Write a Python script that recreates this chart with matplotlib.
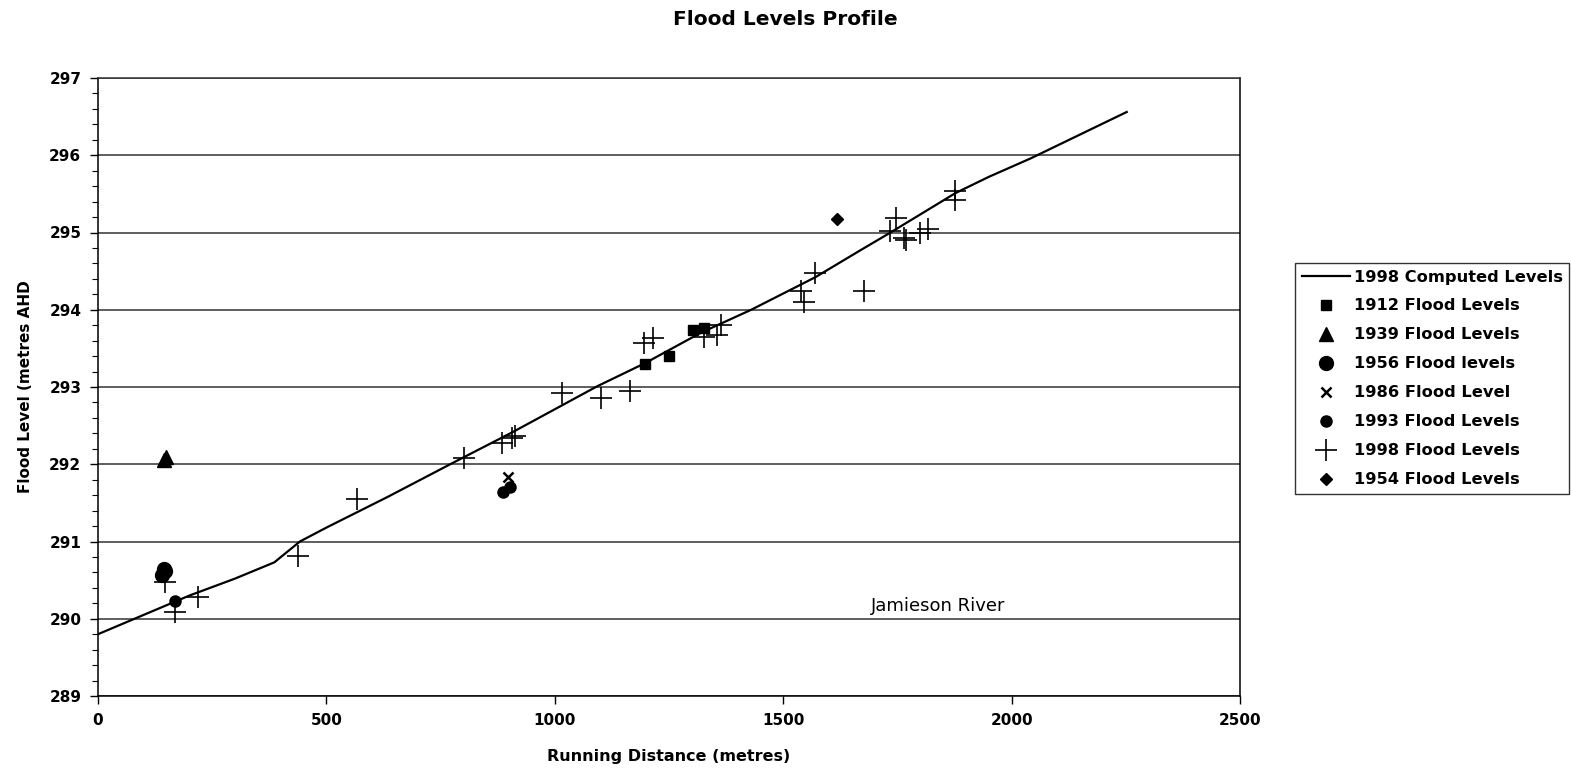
import numpy as np
import matplotlib
matplotlib.use("Agg")
import matplotlib.pyplot as plt
from matplotlib.ticker import MultipleLocator

plt.rcParams['font.family'] = ['DejaVu Sans']

# 1998 computed profile
computed_dist = [0, 100, 200, 300, 386, 442, 500, 635, 771, 909, 1093, 1198,
                 1319, 1430, 1570, 1669, 1735, 1877, 1950, 2042, 2252]
computed_level = [289.80, 290.05, 290.30, 290.52, 290.73, 291.00, 291.18, 291.58,
                  292.00, 292.42, 293.01, 293.31, 293.70, 294.00, 294.42, 294.77,
                  295.00, 295.51, 295.72, 295.96, 296.56]

# observed flood marks
fl1912_dist = [1198, 1251, 1303, 1327]
fl1912_level = [293.30, 293.40, 293.74, 293.76]

fl1939_dist = [144, 148]
fl1939_level = [292.06, 292.09]

fl1956_dist = [140, 145, 147]
fl1956_level = [290.57, 290.65, 290.62]

fl1986_dist = [898]
fl1986_level = [291.84]

fl1993_dist = [169, 887, 902]
fl1993_level = [290.23, 291.64, 291.70]

fl1998_dist = [147, 169, 219, 438, 567, 802, 885, 907, 913, 1016, 1102, 1165,
               1196, 1216, 1327, 1356, 1364, 1538, 1545, 1570, 1676, 1733, 1746,
               1764, 1768, 1800, 1818, 1877, 1877]
fl1998_level = [290.48, 290.09, 290.28, 290.81, 291.55, 292.08, 292.27, 292.34,
                292.37, 292.92, 292.86, 292.95, 293.57, 293.63, 293.65, 293.67,
                293.80, 294.24, 294.10, 294.47, 294.24, 295.02, 295.19, 294.93,
                294.90, 295.00, 295.05, 295.54, 295.42]

fl1954_dist = [1617]
fl1954_level = [295.17]

fig = plt.figure(figsize=(15.71, 7.70), dpi=100)
ax = fig.add_axes([98 / 1571, 74 / 770, 1142 / 1571, 618 / 770])

ax.plot(computed_dist, computed_level, color='black', lw=1.6, label='1998 Computed Levels', zorder=3)
ax.plot(fl1912_dist, fl1912_level, 's', color='black', ms=7, label='1912 Flood Levels', zorder=4)
ax.plot(fl1939_dist, fl1939_level, '^', color='black', ms=10, label='1939 Flood Levels', zorder=4)
ax.plot(fl1956_dist, fl1956_level, 'o', color='black', ms=10, label='1956 Flood levels', zorder=4)
ax.plot(fl1986_dist, fl1986_level, 'x', color='black', ms=7, mew=1.8, label='1986 Flood Level', zorder=4)
ax.plot(fl1993_dist, fl1993_level, 'o', color='black', ms=8, label='1993 Flood Levels', zorder=4)
ax.plot(fl1998_dist, fl1998_level, '+', color='black', ms=16, mew=1.2, label='1998 Flood Levels', zorder=4)
ax.plot(fl1954_dist, fl1954_level, 'D', color='black', ms=6, label='1954 Flood Levels', zorder=4)

ax.set_xlim(0, 2500)
ax.set_ylim(289, 297)
ax.xaxis.set_major_locator(MultipleLocator(500))
ax.yaxis.set_major_locator(MultipleLocator(1))
ax.yaxis.set_minor_locator(MultipleLocator(0.2))
ax.grid(axis='y', which='major', color='#333333', lw=1.1)
ax.set_axisbelow(True)
ax.tick_params(axis='both', which='major', direction='out', length=6, width=1,
               labelsize=11, pad=6)
ax.tick_params(axis='y', which='minor', direction='out', length=4, width=0.8)
for lab in ax.get_xticklabels() + ax.get_yticklabels():
    lab.set_fontweight('bold')
for sp in ax.spines.values():
    sp.set_color('black')
    sp.set_linewidth(1.1)
ax.spines['top'].set_color('#333333')

ax.set_xlabel('Running Distance (metres)', fontsize=11.5, fontweight='bold', labelpad=15)
ax.set_ylabel('Flood Level (metres AHD', fontsize=11, fontweight='bold', labelpad=12)
fig.suptitle('Flood Levels Profile', fontsize=14.5, fontweight='bold', y=0.987)

ax.text(1840, 290.17, 'Jamieson River', fontsize=13, ha='center', va='center')

leg = ax.legend(loc='upper left', bbox_to_anchor=(1295 / 1571, 1 - 263 / 770),
                bbox_transform=fig.transFigure, frameon=True, fancybox=False,
                edgecolor='black', handlelength=3.0, handletextpad=0.2,
                borderpad=0.4, borderaxespad=0, labelspacing=0.86,
                prop={'weight': 'bold', 'size': 11.7})
leg.get_frame().set_linewidth(1.0)

fig.savefig('out.png', dpi=100)
